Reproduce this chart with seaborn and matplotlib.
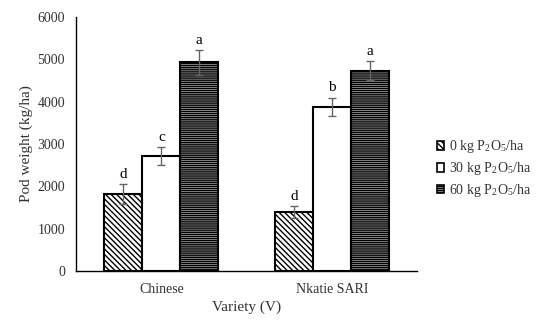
import pandas as pd
import matplotlib.pyplot as plt
import seaborn as sns
from matplotlib.patches import Patch

varieties = ['Chinese', 'Nkatie SARI']
rates = [r'0 kg P$_\mathregular{2}$O$_\mathregular{5}$/ha',
         r'30 kg P$_\mathregular{2}$O$_\mathregular{5}$/ha',
         r'60 kg P$_\mathregular{2}$O$_\mathregular{5}$/ha']
pod_0 = [1820, 1395]
pod_30 = [2720, 3880]
pod_60 = [4930, 4730]
err_0 = [230, 140]
err_30 = [210, 210]
err_60 = [290, 220]
letters_0 = ['d', 'd']
letters_30 = ['c', 'b']
letters_60 = ['a', 'a']

data = pd.DataFrame({
    'Variety': varieties * 3,
    'Rate': [rates[0]] * 2 + [rates[1]] * 2 + [rates[2]] * 2,
    'Pod': pod_0 + pod_30 + pod_60,
})
errs = err_0 + err_30 + err_60
letters = letters_0 + letters_30 + letters_60

sns.set_style('white')
plt.rcParams['font.family'] = ['Liberation Serif', 'DejaVu Serif']
plt.rcParams['mathtext.fontset'] = 'stix'
plt.rcParams['text.color'] = '#333333'
plt.rcParams['axes.labelcolor'] = '#333333'
plt.rcParams['xtick.color'] = '#333333'
plt.rcParams['ytick.color'] = '#333333'

fig = plt.figure(figsize=(5.36, 3.21), dpi=100)
ax = fig.add_axes([0.142, 0.156, 0.636, 0.791])
faces = ['white', 'white', '0.7']
sns.barplot(x='Variety', y='Pod', hue='Rate', data=data, width=0.667,
            palette=faces, edgecolor='black', saturation=1,
            linewidth=1.5, legend=False, ax=ax)

hatches = ['\\\\\\\\\\\\', '', '--------']
bars = ax.patches[:6]
for i, bar in enumerate(bars):
    bar.set_hatch(hatches[i // 2])
    x = bar.get_x() + bar.get_width() / 2
    h = bar.get_height()
    ax.errorbar(x, h, yerr=errs[i], color='0.4', capsize=3, elinewidth=1, capthick=1)
    ax.text(x, h + errs[i] + 80, letters[i], ha='center', va='bottom', fontsize=11, color='black')

ax.set_ylim(0, 6000)
ax.set_yticks(range(0, 6001, 1000))
ax.set_xlim(-0.5, 1.5)
ax.set_xlabel('Variety (V)', fontsize=11, labelpad=3)
ax.set_ylabel('Pod weight (kg/ha)', fontsize=11, labelpad=3)
ax.tick_params(axis='x', labelsize=10, length=0, pad=9)
ax.tick_params(axis='y', labelsize=10, length=0, pad=8)
sns.despine(ax=ax)
for s in ['left', 'bottom']:
    ax.spines[s].set_color('black')
    ax.spines[s].set_linewidth(1)

handles = [Patch(facecolor=f, edgecolor='black', hatch=h, linewidth=1.2) for f, h in zip(faces, hatches)]
fig.legend(handles, rates, loc='center left', bbox_to_anchor=(0.815, 0.474), frameon=False,
           borderaxespad=0, borderpad=0,
           fontsize=10, handlelength=0.55, handleheight=0.55, handletextpad=0.3, labelspacing=0.35)

plt.savefig('out.png', dpi=100)
